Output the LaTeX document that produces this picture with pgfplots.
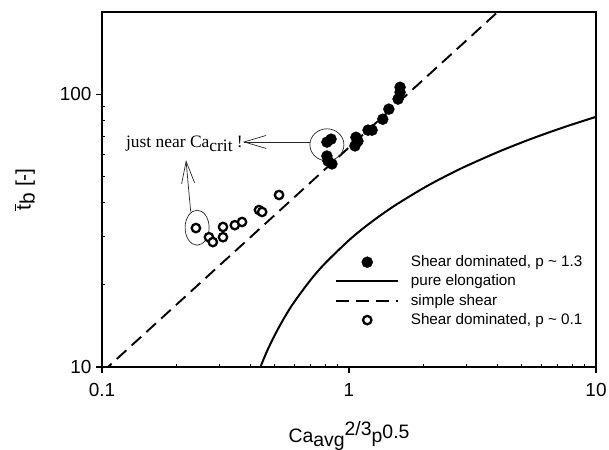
\documentclass[border=0pt]{standalone}
\usepackage{fontspec}
\setmainfont{Liberation Sans}
\newfontfamily\notefont{Liberation Serif}
\usepackage{pgfplots}
\usepackage{pgfplotstable}
\pgfplotsset{compat=1.18}
\usetikzlibrary{arrows.meta}

\pgfplotsset{
  markleg/.style={legend image code/.code={\path (0bp,0bp) (62bp,0bp); \draw[##1] plot coordinates {(31bp,0bp)};}},
  lineleg/.style={legend image code/.code={\draw[##1] (0bp,0bp) -- (62bp,0bp);}},
  opencirc/.style={only marks, mark=*, mark size=4.2bp,
    mark options={draw=black, fill=white, line width=2.3bp, solid}},
  fullcirc/.style={only marks, mark=*, mark size=5.5bp, mark options={draw=black, fill=black}},
}

% breakup time, shear dominated flow, viscosity ratio ~ 1.3
\pgfplotstableread{
x t
0.814 66.7
0.846 68.4
0.814 59.3
0.822 56.9
0.853 55.5
1.067 69.5
1.087 67.3
1.057 64.6
1.194 73.8
1.240 73.8
1.370 80.9
1.450 88.1
1.580 95.9
1.610 101.6
1.610 106.0
}\shearhigh

% breakup time, shear dominated flow, viscosity ratio ~ 0.1
\pgfplotstableread{
x t
0.240 32.3
0.271 29.9
0.281 28.7
0.309 32.6
0.309 29.9
0.345 33.1
0.369 34.0
0.432 37.6
0.445 37.0
0.521 42.7
}\shearlow

% pure elongation reference curve
\pgfplotstableread{
x t
0.438 10.00
0.45 10.63
0.47 11.64
0.50 13.07
0.55 15.28
0.60 17.30
0.70 20.88
0.80 23.98
1.0 29.15
1.2 33.38
1.5 38.56
2.0 45.23
2.5 50.41
3.0 54.64
4.0 61.31
5.0 66.49
6.0 70.72
7.0 74.30
8.0 77.40
10.0 82.57
}\elong

% simple shear reference line
\pgfplotstableread{
x t
0.1 9.55
10 426
}\simpleshear

\begin{document}
\begin{tikzpicture}
\useasboundingbox (-102bp,-83bp) rectangle (507bp,367bp);
\begin{axis}[
  at={(0,0)}, anchor=south west,
  scale only axis, width=494bp, height=355bp,
  xmode=log, ymode=log,
  xmin=0.1, xmax=10, ymin=10, ymax=200,
  xtick={0.1,1,10}, xticklabels={0.1,1,10},
  ytick={10,100}, yticklabels={10,100},
  minor xtick={0.2,0.3,0.4,0.5,0.6,0.7,0.8,0.9,2,3,4,5,6,7,8,9},
  minor ytick={20,30,40,50,60,70,80,90},
  tick pos=left,
  tick align=inside,
  major tick length=-6bp,
  minor tick length=3.5bp,
  every tick/.style={black, line width=1.1bp},
  axis line style={line width=1.8bp},
  tick label style={font=\fontsize{19}{19}\selectfont},
  xticklabel style={yshift=-13bp},
  yticklabel style={xshift=-7bp},
  xlabel={Ca\raisebox{-4bp}{avg}\raisebox{7bp}{2/3}p\raisebox{4bp}{0.5}},
  xlabel style={at={(axis description cs:0.5,-0.2113)}, anchor=base, font=\fontsize{19.5}{19.5}\selectfont},
  ylabel={$\overline{\mbox{t\kern0.5bp}}$\raisebox{-4bp}{b} [-]},
  ylabel style={at={(axis description cs:-0.156,0.5)}, anchor=center, font=\fontsize{21}{21}\selectfont},
  legend style={draw=none, fill=none, at={(axis cs:0.878,18.97)}, anchor=west,
    inner sep=0pt, row sep=0pt,
    nodes={inner sep=2.6bp, text height=11.5bp, text depth=2.6bp, font=\fontsize{15.3}{16}\selectfont},
    /tikz/every odd column/.append style={column sep=9bp}},
  legend cell align=left,
]
% legend entries
\addlegendimage{fullcirc, markleg}
\addlegendentry{Shear dominated, p \textasciitilde{} 1.3}
\addlegendimage{black, line width=2bp, lineleg}
\addlegendentry{pure elongation}
\addlegendimage{black, line width=1.9bp, dash pattern=on 13bp off 7bp, lineleg}
\addlegendentry{simple shear}
\addlegendimage{opencirc, markleg}
\addlegendentry{Shear dominated, p \textasciitilde{} 0.1}

% reference curves
\addplot[black, line width=1.9bp, dash pattern=on 13bp off 7bp, forget plot] table {\simpleshear};
\addplot[black, line width=2bp, smooth, forget plot] table {\elong};

% measurements
\addplot[fullcirc, forget plot] table {\shearhigh};
\addplot[opencirc, forget plot] table {\shearlow};

% annotations
\draw[black!85, line width=0.7bp] (axis cs:0.814,65.2) ellipse [x radius=17bp, y radius=16bp];
\draw[black!85, line width=0.7bp] (axis cs:0.2427,32.4) ellipse [x radius=12bp, y radius=17.5bp];
\draw[black!85, line width=0.7bp, -{Straight Barb[length=22bp, width=13bp]}]
  (axis cs:0.695,66.8) -- (axis cs:0.372,66.8);
\draw[black!85, line width=0.7bp, -{Straight Barb[length=22bp, width=13bp]}]
  (axis cs:0.2286,37.1) -- (axis cs:0.2188,57.3);
\node[anchor=base west, inner sep=0pt, font=\notefont\fontsize{17.5}{17.5}\selectfont]
  at (axis cs:0.125,64.0) {just near Ca\raisebox{-4bp}{crit} !};
\end{axis}
\end{tikzpicture}
\end{document}
